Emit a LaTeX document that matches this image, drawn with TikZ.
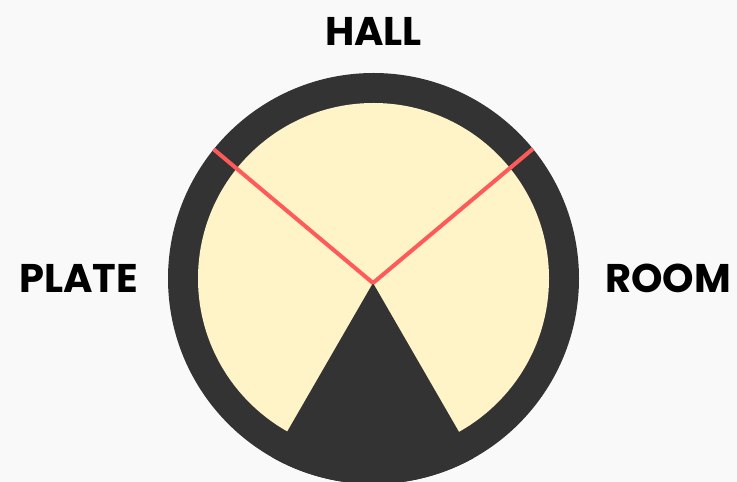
\documentclass[tikz,border=0pt]{standalone}
\usepackage{fontspec}
\setmainfont{Poppins}
\usetikzlibrary{positioning}
\definecolor{bgpaper}{HTML}{F9F9F9}
\definecolor{dialdark}{HTML}{333333}
\definecolor{dialcream}{HTML}{FFF3C8}
\definecolor{pointerred}{HTML}{FF5A5A}

\begin{document}
\begin{tikzpicture}[x=1pt, y=1pt,
  dirlabel/.style={font=\fontsize{40}{48}\selectfont\bfseries, text=black, anchor=base, inner sep=0pt}]
  \fill[bgpaper] (0,0) rectangle (737,482);
  \useasboundingbox (0,0) rectangle (737,482);

  % dial
  \coordinate (mid) at (373.5,203.5);
  \coordinate (tip) at (373,199);
  \fill[dialdark] (mid) circle (205.5);
  \fill[dialcream] (mid) circle (175.5);
  \begin{scope}
    \clip (mid) circle (205.5);
    \fill[dialdark] (tip) -- +(240:260) -- +(300:260) -- cycle;
    \draw[pointerred, line width=4] (tip) -- +(140:240);
    \draw[pointerred, line width=4] (tip) -- +(40:240);
  \end{scope}

  % labels
  \node[dirlabel] (hall) at (373.5,436) {HALL};
  \node[dirlabel] (plate) at (78.5,189) {PLATE};
  \node[dirlabel] (room) at (668,189) {ROOM};
\end{tikzpicture}
\end{document}
